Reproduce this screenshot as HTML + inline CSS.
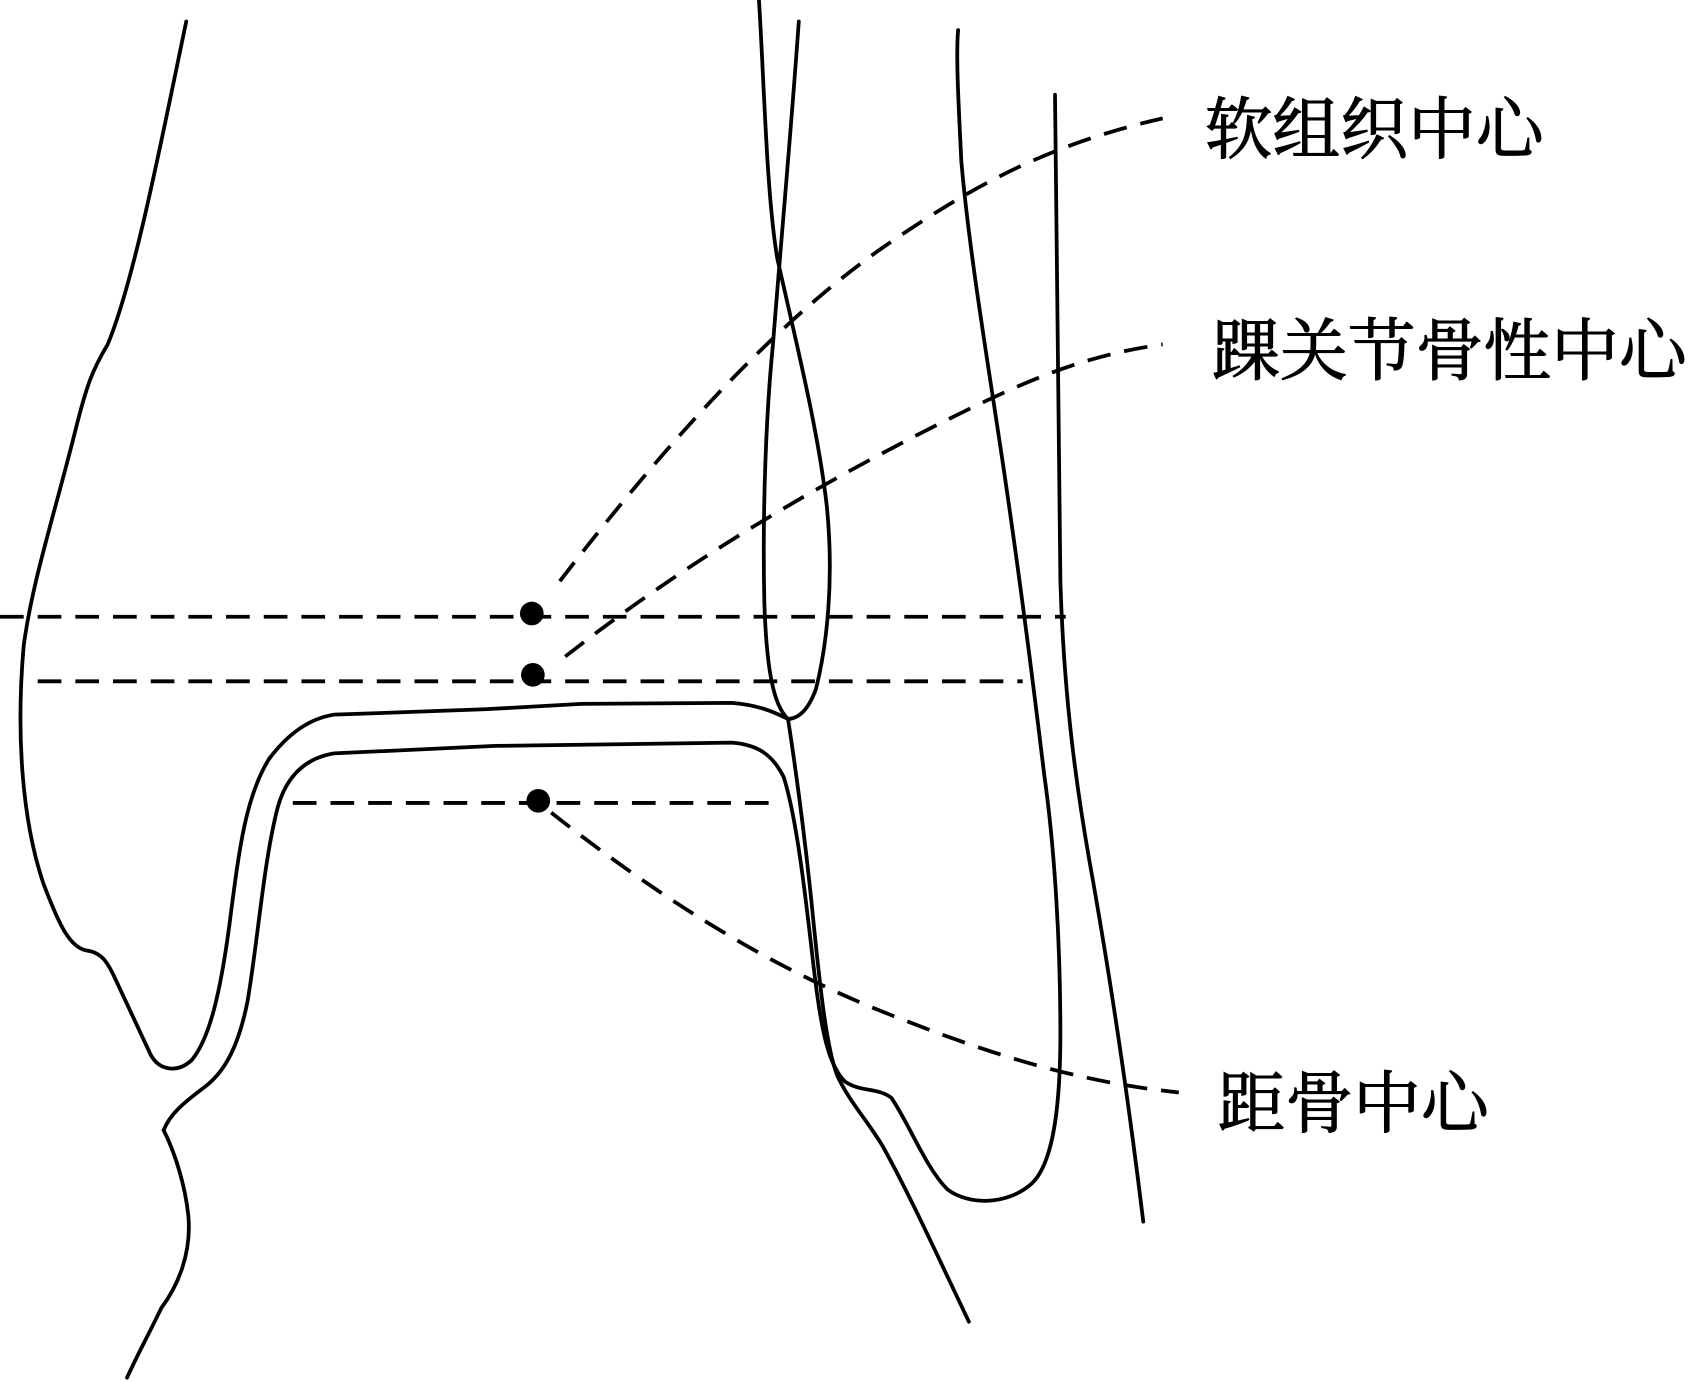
<!DOCTYPE html>
<html><head><meta charset="utf-8"><style>
html,body{margin:0;padding:0;background:#fff;}
svg{display:block;}
text{font-family:"Liberation Serif","Noto Serif CJK SC",serif;font-size:63px;fill:#000;stroke:#000;stroke-width:1;}
</style></head><body>
<svg width="1688" height="1382" viewBox="0 0 1568 1284" preserveAspectRatio="none" xmlns="http://www.w3.org/2000/svg">
<g fill="none" stroke="#000" stroke-width="3.5" stroke-linecap="round" stroke-linejoin="round">
<path d="M173,20 C150,130 125,260 100,320 C85,345 80,360 70,400 C50,480 30,540 22,600 C15,680 20,760 40,820 C55,860 65,880 80,883 C95,885 100,895 105,905 L140,980 C148,995 165,997 178,985 C195,965 205,920 213,860 C222,790 228,740 250,705 C265,685 285,668 310,664 L450,659 L540,654 L680,653 C705,655 720,662 732,668"/>
<path d="M705,0 C710,80 712,180 722,240 C740,320 760,400 768,470 C775,540 768,600 758,640 C750,662 740,668 732,668 C718,655 712,620 710,560 C708,470 712,380 718,320 C725,230 735,120 742,20"/>
<path d="M152,1050 C158,1035 170,1025 190,1010 C210,995 222,970 230,930 C240,870 245,800 258,750 C265,725 280,705 310,700 L460,693 L680,690 C705,692 718,702 728,722 C740,760 748,830 756,900 C763,960 770,990 785,1005 C800,1015 815,1010 828,1020 C845,1045 860,1085 880,1105 C900,1120 935,1120 958,1100 C980,1080 985,1020 985,960 C985,880 980,790 970,720 C958,620 945,520 930,420 C915,320 900,230 893,150 C890,90 888,50 890,28"/>
<path d="M732,668 C740,720 748,780 755,850 C762,920 768,975 778,1000 C790,1025 805,1040 820,1065 C845,1110 870,1165 900,1228"/>
<path d="M152,1050 C162,1070 172,1100 175,1130 C178,1165 165,1195 150,1215 C138,1240 127,1260 118,1280"/>
<path d="M980,88 C982,250 983,420 985,540 C988,640 998,720 1012,800 C1030,900 1048,1020 1062,1135"/>
</g>
<g fill="none" stroke="#000" stroke-width="3.5" stroke-dasharray="22,13">
<path d="M0,573 L990,573"/>
<path d="M35,633 L950,633"/>
<path d="M272,746 L725,746"/>
<path d="M520,540 C620,410 720,300 820,230 C900,175 970,135 1080,110"/>
<path d="M525,610 C640,520 760,450 880,390 C960,350 1010,330 1080,320"/>
<path d="M512,755 C620,840 720,900 820,940 C920,980 1000,1005 1095,1015"/>
</g>
<g fill="#000">
<circle cx="494" cy="570" r="11"/>
<circle cx="495" cy="627" r="11"/>
<circle cx="500" cy="744" r="11"/>
</g>
<text x="1119" y="142">软组织中心</text>
<text x="1126" y="348">踝关节骨性中心</text>
<text x="1131" y="1047">距骨中心</text>
</svg>
</body></html>
